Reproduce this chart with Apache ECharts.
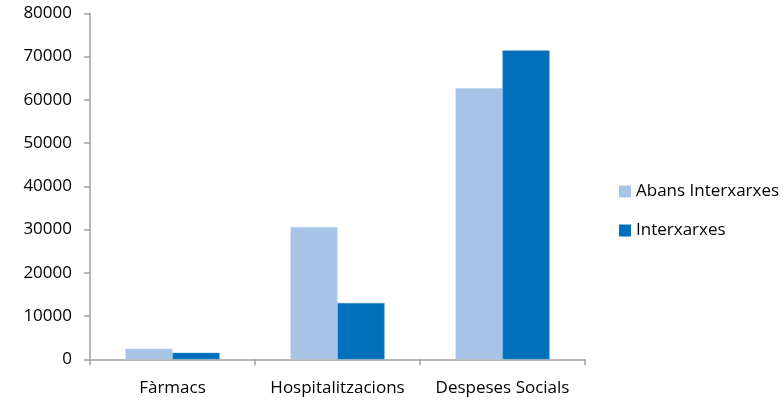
<!DOCTYPE html>
<html><head><meta charset="utf-8">
<script src="https://cdn.jsdelivr.net/npm/echarts@6/dist/echarts.min.js"></script>
<style>html,body{margin:0;padding:0;background:#fff}#c{width:783px;height:407px}</style>
</head><body><div id="c"></div>
<script>
const categories = ['Fàrmacs', 'Hospitalitzacions', 'Despeses Socials'];
const seriesNames = ['Abans Interxarxes', 'Interxarxes'];
const abansValues = [2450, 30600, 62700];
const interValues = [1500, 13000, 71400];
const yTicks = [0, 10000, 20000, 30000, 40000, 50000, 60000, 70000, 80000];

const font = 'Open Sans';
const fs = 17;
const chart = echarts.init(document.getElementById('c'));
chart.setOption({
  animation: false,
  textStyle: { fontFamily: font },
  grid: { left: 90, right: 198, top: 13.3, bottom: 47.7, containLabel: false },
  legend: {
    orient: 'vertical', left: 619, top: 183, padding: 0,
    itemWidth: 12, itemHeight: 12, itemGap: 22,
    icon: 'rect',
    itemStyle: { borderWidth: 0 },
    textStyle: { fontFamily: font, fontSize: fs, color: '#000' },
    data: seriesNames
  },
  xAxis: {
    type: 'category', data: categories,
    axisLine: { lineStyle: { color: '#A0A0A0', width: 1.5 } },
    axisTick: { show: true, length: 6, alignWithLabel: false, lineStyle: { color: '#A0A0A0', width: 1.5 } },
    axisLabel: { fontFamily: font, fontSize: fs, color: '#000', margin: 20, interval: 0 }
  },
  yAxis: {
    type: 'value', min: yTicks[0], max: yTicks[yTicks.length - 1], interval: yTicks[1] - yTicks[0],
    axisLine: { show: true, lineStyle: { color: '#A0A0A0', width: 1.5 } },
    axisTick: { show: true, length: 6, lineStyle: { color: '#A0A0A0', width: 1.5 } },
    splitLine: { show: false },
    axisLabel: { fontFamily: font, fontSize: fs, color: '#000', margin: 18, formatter: v => String(v) }
  },
  series: [
    { name: seriesNames[0], type: 'bar', data: abansValues, barGap: '0%', barCategoryGap: '43%',
      itemStyle: { color: '#A7C4E6', borderColor: '#C3D7EE', borderWidth: 0.5 } },
    { name: seriesNames[1], type: 'bar', data: interValues,
      itemStyle: { color: '#0070BC', borderColor: '#3B8FCB', borderWidth: 0.5 } }
  ]
});
</script></body></html>
